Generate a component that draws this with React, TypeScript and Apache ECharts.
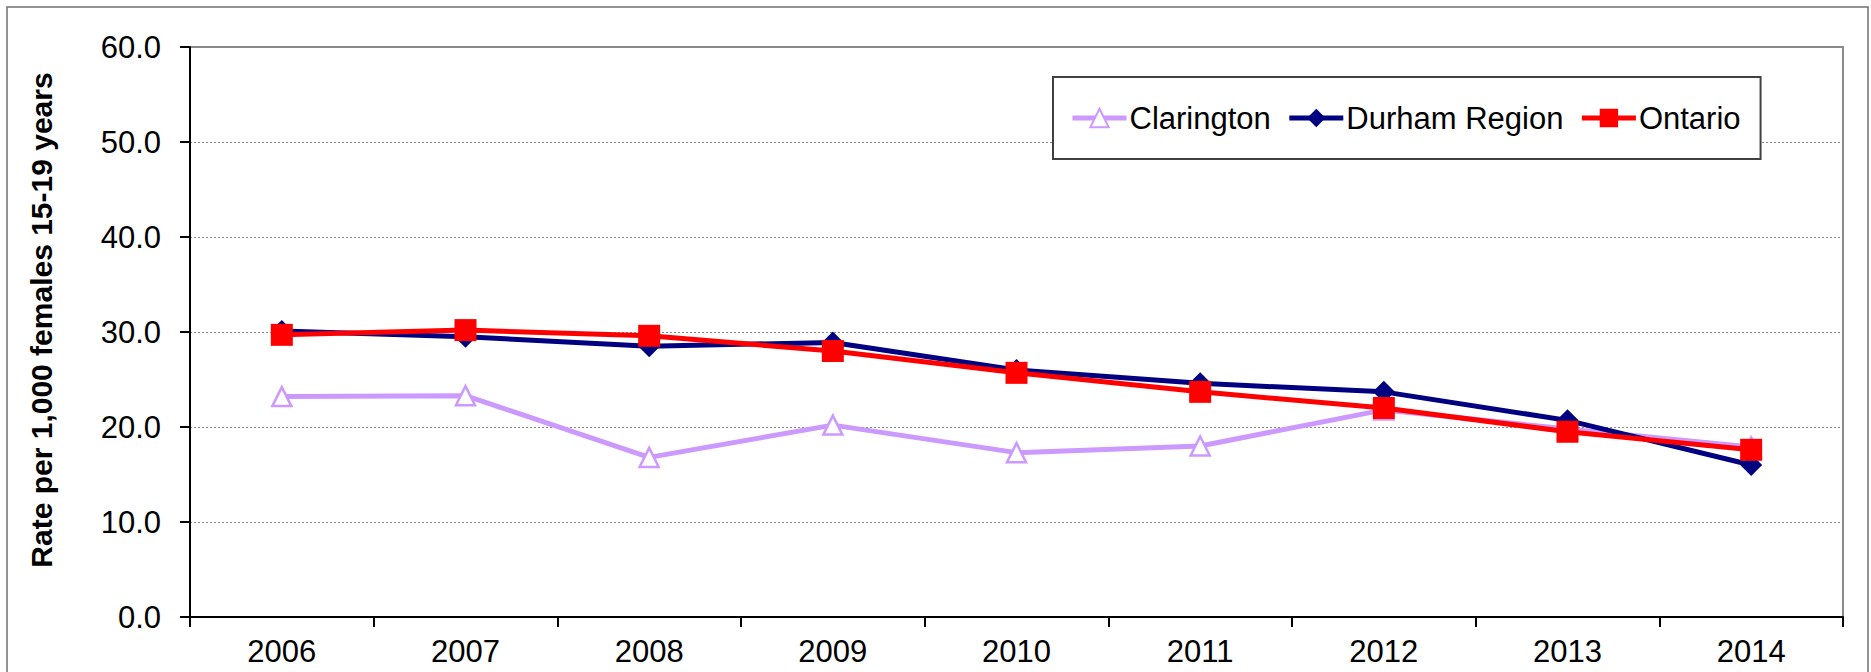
import React, { useEffect, useRef } from "react";
import * as echarts from "echarts";

const years = ["2006", "2007", "2008", "2009", "2010", "2011", "2012", "2013", "2014"];
const clarington = [23.2, 23.3, 16.8, 20.2, 17.3, 18.0, 21.8, 19.8, 17.9];
const durham = [30.1, 29.5, 28.5, 28.9, 26.0, 24.6, 23.7, 20.7, 16.0];
const ontario = [29.7, 30.2, 29.6, 28.0, 25.7, 23.7, 22.0, 19.5, 17.6];
const yAxisTitle = "Rate per 1,000 females 15-19 years";
const FONT = "'Liberation Sans', Arial, sans-serif";

export default function App() {
  const ref = useRef<HTMLDivElement>(null);
  useEffect(() => {
    if (!ref.current) return;
    const chart = echarts.init(ref.current, undefined, { renderer: "svg" });
    chart.setOption({
      animation: false,
      backgroundColor: "#ffffff",
      textStyle: { fontFamily: FONT },
      grid: {
        left: 190,
        right: 28,
        top: 47,
        bottom: 55,
        show: true,
        borderColor: "#8a8a8a",
        borderWidth: 2,
        backgroundColor: "transparent",
      },
      legend: {
        left: 1053,
        top: 77,
        padding: [23, 20, 23, 17],
        borderColor: "#404040",
        borderWidth: 2,
        backgroundColor: "#ffffff",
        itemWidth: 54,
        itemHeight: 23,
        itemGap: 16,
        lineStyle: { width: 5 },
        textStyle: { fontSize: 31, color: "#000", fontFamily: FONT, lineHeight: 36, padding: [0, 0, 0, -2] },
        data: ["Clarington", "Durham Region", "Ontario"],
      },
      xAxis: {
        type: "category",
        data: years,
        boundaryGap: true,
        axisLine: { lineStyle: { color: "#000", width: 2 } },
        axisTick: { show: true, length: 10, inside: false, lineStyle: { color: "#000", width: 2 } },
        axisLabel: { fontSize: 31, color: "#000", margin: 19, fontFamily: FONT },
        splitLine: { show: false },
      },
      yAxis: {
        type: "value",
        min: 0,
        max: 60,
        interval: 10,
        axisLine: { show: true, lineStyle: { color: "#000", width: 2 } },
        axisTick: { show: true, length: 10, inside: false, lineStyle: { color: "#000", width: 2 } },
        axisLabel: {
          fontSize: 31,
          color: "#000",
          margin: 29,
          fontFamily: FONT,
          formatter: (v: number) => v.toFixed(1),
        },
        splitLine: { show: true, lineStyle: { color: "#8a8a8a", width: 1, type: [2, 2] } },
      },
      graphic: [
        {
          type: "rect",
          silent: true,
          shape: { x: 7, y: 7, width: 1861, height: 720 },
          style: { fill: "none", stroke: "#707070", lineWidth: 1.5 },
          z: 100,
        },
        {
          type: "text",
          x: 41,
          y: 320,
          rotation: Math.PI / 2,
          style: {
            text: yAxisTitle,
            font: `bold 30px ${FONT}`,
            fill: "#000",
            textAlign: "center",
            textVerticalAlign: "middle",
          },
        },
      ],
      series: [
        {
          name: "Clarington",
          type: "line",
          data: clarington,
          symbol: "triangle",
          symbolSize: 19,
          lineStyle: { color: "#CC99FF", width: 5 },
          itemStyle: { color: "#ffffff", borderColor: "#CC99FF", borderWidth: 2.5 },
          z: 2,
        },
        {
          name: "Durham Region",
          type: "line",
          data: durham,
          symbol: "diamond",
          symbolSize: 22,
          lineStyle: { color: "#000080", width: 5 },
          itemStyle: { color: "#000080", borderWidth: 0 },
          z: 3,
        },
        {
          name: "Ontario",
          type: "line",
          data: ontario,
          symbol: "rect",
          symbolSize: 22,
          lineStyle: { color: "#FF0000", width: 5 },
          itemStyle: { color: "#FF0000", borderWidth: 0 },
          z: 4,
        },
      ],
    });
    return () => chart.dispose();
  }, []);
  return (
    <div
      ref={ref}
      style={{ position: "absolute", left: 0, top: 0, width: 1871, height: 672, background: "#fff" }}
    />
  );
}
